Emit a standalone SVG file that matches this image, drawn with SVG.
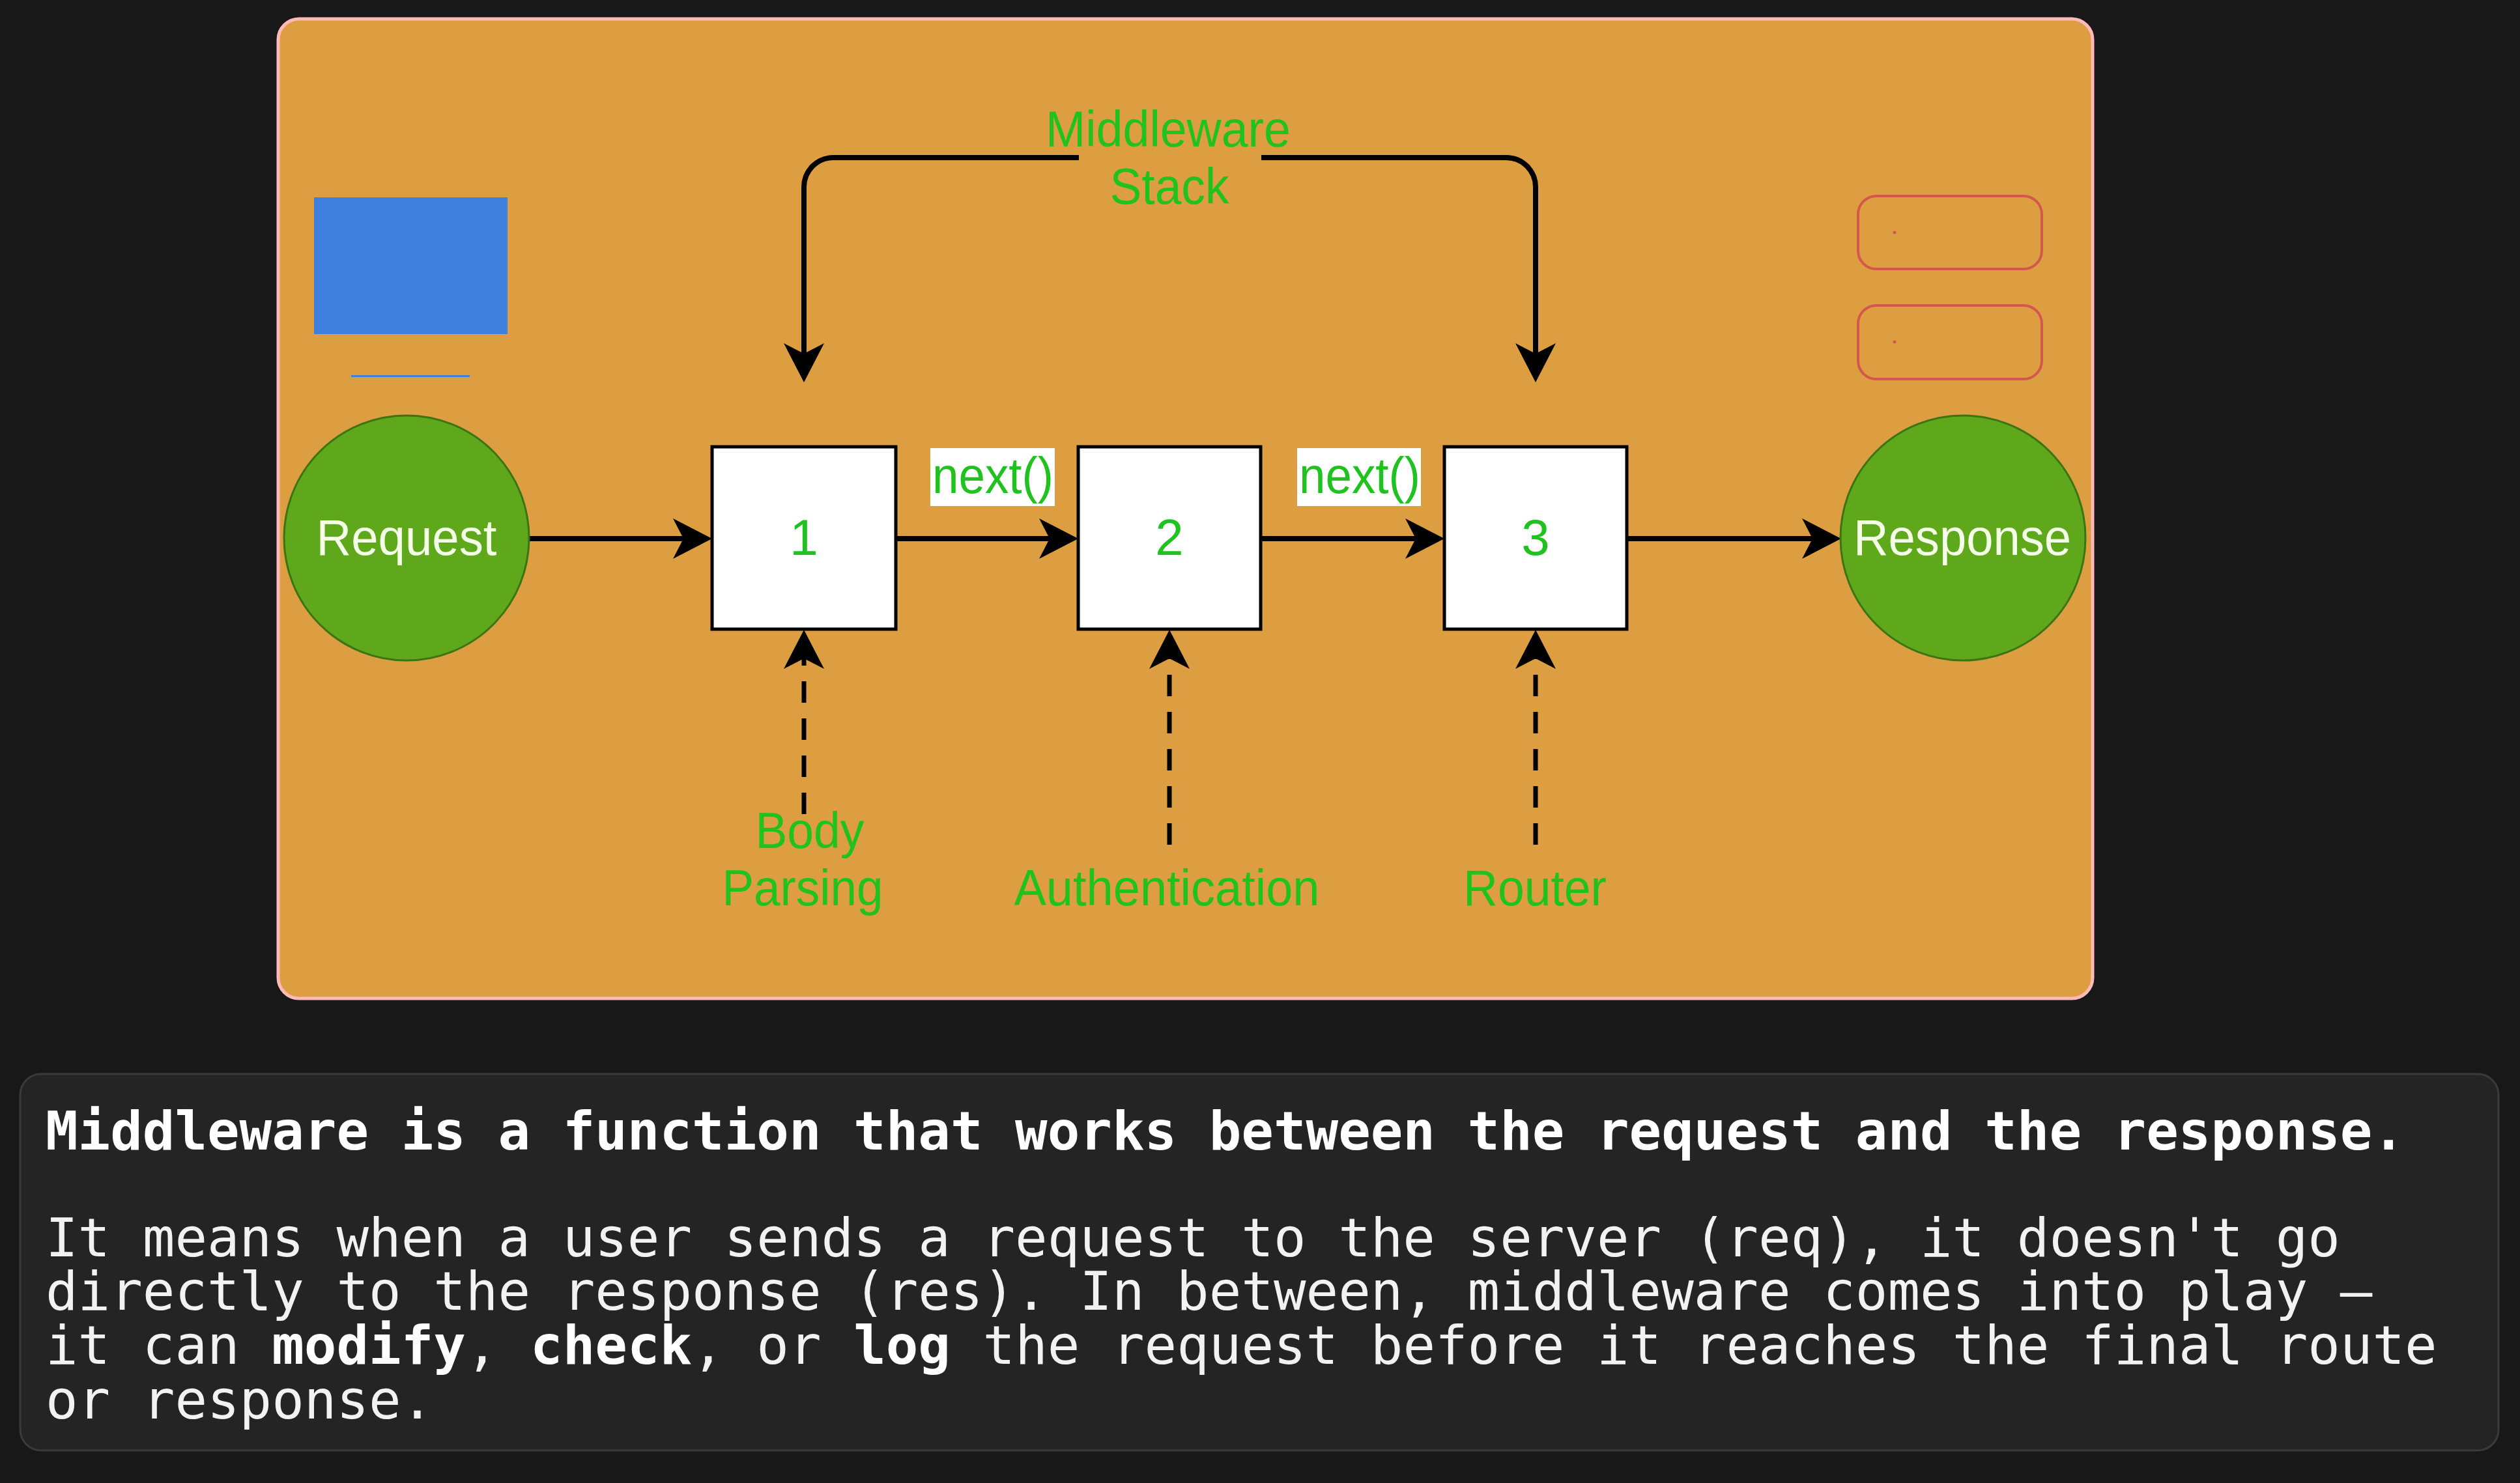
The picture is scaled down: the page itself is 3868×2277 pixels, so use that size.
<svg xmlns="http://www.w3.org/2000/svg" width="3868" height="2277" viewBox="0 0 3868 2277">
<style>
.lbl{font-family:"Liberation Sans",Arial,sans-serif;fill:#1fc21f;font-size:78px;text-anchor:middle}
.wt{font-family:"Liberation Sans",Arial,sans-serif;fill:#f4ffe8;font-size:78px;text-anchor:middle}
.box{fill:#ffffff;stroke:#000000;stroke-width:5}
.circ{fill:#5fa81b;stroke:#3b7412;stroke-width:3}
.edge{fill:none;stroke:#000000;stroke-width:8}
.dash{fill:none;stroke:#000000;stroke-width:7;stroke-dasharray:33 24}
.red{fill:none;stroke:#d4574e;stroke-width:4}
.mono{font-family:"DejaVu Sans Mono","Liberation Mono",monospace;font-size:82.4px;fill:#f2f2f2}
.b{font-weight:bold;fill:#ffffff}
</style>
<defs>
<marker id="ah" markerUnits="userSpaceOnUse" viewBox="-44 -34 66 68" markerWidth="66" markerHeight="68" refX="0" refY="0" orient="auto"><path d="M20,0 L-40,-31 L-24,0 L-40,31 Z" fill="#000000"/></marker>
</defs>
<rect x="0" y="0" width="3868" height="2277" fill="#181818"/>
<g id="panel">
<rect x="427" y="29" width="2785" height="1504" rx="32" fill="#dc9e41" stroke="#ffb9b9" stroke-width="5"/>
</g>
<g id="blue-rect"><rect x="482" y="303" width="297" height="210" fill="#3f7fdd"/></g>
<g id="blue-line"><rect x="539" y="576" width="182" height="3" fill="#3f7fdd"/></g>
<g id="red-box-1"><rect class="red" x="2852" y="301" width="282" height="112" rx="28"/><circle cx="2908" cy="357" r="2.5" fill="#d4574e"/></g>
<g id="red-box-2"><rect class="red" x="2852" y="469" width="282" height="113" rx="28"/><circle cx="2908" cy="525" r="2.5" fill="#d4574e"/></g>
<g id="connectors">
<path class="edge" d="M813,827 H1073" marker-end="url(#ah)"/>
<path class="edge" d="M1375,827 H1635" marker-end="url(#ah)"/>
<path class="edge" d="M1935,827 H2197" marker-end="url(#ah)"/>
<path class="edge" d="M2497,827 H2806" marker-end="url(#ah)"/>
<path class="edge" d="M1656,242 H1279 A45,45 0 0 0 1234,287 V567" marker-end="url(#ah)"/>
<path class="edge" d="M1936,242 H2312 A45,45 0 0 1 2357,287 V567" marker-end="url(#ah)"/>
<path class="dash" d="M1234,1250 V987" marker-end="url(#ah)"/>
<path class="dash" d="M1795,1297 V987" marker-end="url(#ah)"/>
<path class="dash" d="M2357,1297 V987" marker-end="url(#ah)"/>
<rect x="1428" y="688" width="191" height="89" fill="#ffffff"/>
<text class="lbl" x="1524" y="757" textLength="186" lengthAdjust="spacingAndGlyphs">next()</text>
<rect x="1991" y="688" width="190" height="89" fill="#ffffff"/>
<text class="lbl" x="2087" y="757" textLength="186" lengthAdjust="spacingAndGlyphs">next()</text>
<text class="lbl" x="1793" y="225" textLength="376" lengthAdjust="spacingAndGlyphs">Middleware</text>
<text class="lbl" x="1795" y="313" textLength="183" lengthAdjust="spacingAndGlyphs">Stack</text>
</g>
<g id="request"><circle class="circ" cx="624" cy="826" r="188"/><text class="wt" x="624" y="852" textLength="277" lengthAdjust="spacingAndGlyphs">Request</text></g>
<g id="response"><circle class="circ" cx="3013" cy="826" r="188"/><text class="wt" x="3012" y="852" textLength="334" lengthAdjust="spacingAndGlyphs">Response</text></g>
<g id="mw1"><rect class="box" x="1093" y="686" width="282" height="280"/><text class="lbl" x="1234" y="852">1</text></g>
<g id="mw2"><rect class="box" x="1655" y="686" width="280" height="280"/><text class="lbl" x="1795" y="852">2</text></g>
<g id="mw3"><rect class="box" x="2217" y="686" width="280" height="280"/><text class="lbl" x="2357" y="852">3</text></g>
<g id="body-parsing"><text class="lbl" x="1243" y="1302" textLength="167" lengthAdjust="spacingAndGlyphs">Body</text><text class="lbl" x="1232" y="1390" textLength="247" lengthAdjust="spacingAndGlyphs">Parsing</text></g>
<g id="authentication"><text class="lbl" x="1791" y="1390" textLength="469" lengthAdjust="spacingAndGlyphs">Authentication</text></g>
<g id="router"><text class="lbl" x="2356" y="1390" textLength="220" lengthAdjust="spacingAndGlyphs">Router</text></g>
<g id="caption">
<rect x="31" y="1649" width="3804" height="578" rx="32" fill="#242424" stroke="#3a3a3a" stroke-width="3"/>
<text class="mono b" x="70" y="1765">Middleware is a function that works between the request and the response.</text>
<text class="mono"><tspan x="70" y="1929">It means when a user sends a request to the server (req), it doesn't go</tspan><tspan x="70" y="2011">directly to the response (res). In between, middleware comes into play —</tspan><tspan x="70" y="2094">it can <tspan class="b">modify</tspan>, <tspan class="b">check</tspan>, or <tspan class="b">log</tspan> the request before it reaches the final route</tspan><tspan x="70" y="2178">or response.</tspan></text>
</g>
</svg>
